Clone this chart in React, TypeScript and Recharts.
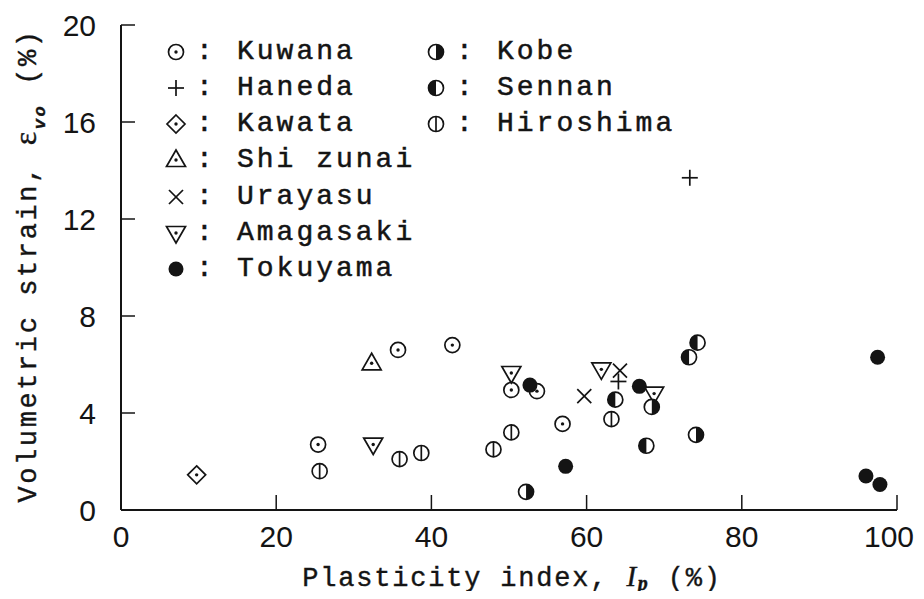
import React from 'react';
import { ScatterChart, Scatter, XAxis, YAxis, Legend } from 'recharts';

const INK = '#141414';
const MONO = "'Liberation Mono', 'DejaVu Sans Mono', monospace";
const NUM = "'Liberation Sans', 'DejaVu Sans', sans-serif";

const xTicks = [0, 20, 40, 60, 80, 100];
const yTicks = [0, 4, 8, 12, 16, 20];

const kuwana = [
  { ip: 25.4, ev: 2.7 }, { ip: 35.7, ev: 6.6 }, { ip: 42.7, ev: 6.8 },
  { ip: 50.3, ev: 4.95 }, { ip: 53.6, ev: 4.9 }, { ip: 56.9, ev: 3.55 },
];
const haneda = [{ ip: 73.3, ev: 13.7 }, { ip: 64.1, ev: 5.3 }];
const kawata = [{ ip: 9.75, ev: 1.45 }];
const shizunai = [{ ip: 32.3, ev: 6.05 }];
const urayasu = [{ ip: 59.7, ev: 4.7 }, { ip: 64.3, ev: 5.75 }];
const amagasaki = [
  { ip: 32.5, ev: 2.7 }, { ip: 50.3, ev: 5.65 }, { ip: 61.9, ev: 5.8 }, { ip: 68.7, ev: 4.8 },
];
const tokuyama = [
  { ip: 52.7, ev: 5.15 }, { ip: 57.3, ev: 1.8 }, { ip: 66.8, ev: 5.1 },
  { ip: 97.5, ev: 6.3 }, { ip: 96.0, ev: 1.4 }, { ip: 97.8, ev: 1.05 },
];
const kobe = [{ ip: 52.2, ev: 0.75 }, { ip: 68.4, ev: 4.25 }, { ip: 74.1, ev: 3.1 }];
const sennan = [
  { ip: 63.7, ev: 4.55 }, { ip: 67.7, ev: 2.65 }, { ip: 74.3, ev: 6.9 }, { ip: 73.2, ev: 6.3 },
];
const hiroshima = [
  { ip: 25.6, ev: 1.6 }, { ip: 35.9, ev: 2.1 }, { ip: 38.7, ev: 2.35 },
  { ip: 48.0, ev: 2.5 }, { ip: 50.3, ev: 3.2 }, { ip: 63.2, ev: 3.75 },
];

type Kind =
  | 'dotCircle' | 'plus' | 'diamond' | 'triUp' | 'cross' | 'triDown'
  | 'filled' | 'halfRight' | 'halfLeft' | 'barCircle';

const series: { name: string; kind: Kind; data: { ip: number; ev: number }[] }[] = [
  { name: 'Kuwana', kind: 'dotCircle', data: kuwana },
  { name: 'Haneda', kind: 'plus', data: haneda },
  { name: 'Kawata', kind: 'diamond', data: kawata },
  { name: 'Shi zunai', kind: 'triUp', data: shizunai },
  { name: 'Urayasu', kind: 'cross', data: urayasu },
  { name: 'Amagasaki', kind: 'triDown', data: amagasaki },
  { name: 'Tokuyama', kind: 'filled', data: tokuyama },
  { name: 'Kobe', kind: 'halfRight', data: kobe },
  { name: 'Sennan', kind: 'halfLeft', data: sennan },
  { name: 'Hiroshima', kind: 'barCircle', data: hiroshima },
];

const R = 7.5;
const SW = 1.7;

function Marker({ kind, cx, cy }: { kind: Kind; cx: number; cy: number }) {
  const common = { stroke: INK, strokeWidth: SW, fill: 'none' };
  const dot = <circle cx={cx} cy={cy} r={1.7} fill={INK} />;
  switch (kind) {
    case 'dotCircle':
      return (
        <g>
          <circle cx={cx} cy={cy} r={R} {...common} fill="#fff" />
          {dot}
        </g>
      );
    case 'plus':
      return (
        <g>
          <line x1={cx - 8} y1={cy} x2={cx + 8} y2={cy} {...common} />
          <line x1={cx} y1={cy - 8} x2={cx} y2={cy + 8} {...common} />
        </g>
      );
    case 'diamond':
      return (
        <g>
          <path d={`M${cx},${cy - 9}L${cx + 9},${cy}L${cx},${cy + 9}L${cx - 9},${cy}Z`} {...common} fill="#fff" />
          {dot}
        </g>
      );
    case 'triUp':
      return (
        <g>
          <path d={`M${cx},${cy - 10}L${cx + 9.5},${cy + 6.5}L${cx - 9.5},${cy + 6.5}Z`} {...common} fill="#fff" />
          {dot}
        </g>
      );
    case 'triDown':
      return (
        <g>
          <path d={`M${cx - 9.5},${cy - 6.5}L${cx + 9.5},${cy - 6.5}L${cx},${cy + 10}Z`} {...common} fill="#fff" />
          {dot}
        </g>
      );
    case 'cross':
      return (
        <g>
          <line x1={cx - 7} y1={cy - 7} x2={cx + 7} y2={cy + 7} {...common} />
          <line x1={cx - 7} y1={cy + 7} x2={cx + 7} y2={cy - 7} {...common} />
        </g>
      );
    case 'filled':
      return <circle cx={cx} cy={cy} r={R} fill={INK} />;
    case 'halfRight':
      return (
        <g>
          <circle cx={cx} cy={cy} r={R} {...common} fill="#fff" />
          <path d={`M${cx},${cy - R}A${R},${R} 0 0 1 ${cx},${cy + R}Z`} fill={INK} />
        </g>
      );
    case 'halfLeft':
      return (
        <g>
          <circle cx={cx} cy={cy} r={R} {...common} fill="#fff" />
          <path d={`M${cx},${cy - R}A${R},${R} 0 0 0 ${cx},${cy + R}Z`} fill={INK} />
        </g>
      );
    case 'barCircle':
      return (
        <g>
          <circle cx={cx} cy={cy} r={R} {...common} fill="#fff" />
          <line x1={cx} y1={cy - R} x2={cx} y2={cy + R} {...common} />
        </g>
      );
  }
  return null;
}

function LegendBox() {
  const colX = [168, 428];
  const row0 = 43.5;
  const rowH = 36.3;
  const txt: React.CSSProperties = {
    position: 'absolute',
    lineHeight: '36px',
    fontSize: 28,
    whiteSpace: 'pre',
    WebkitTextStroke: '0.5px #141414',
  };
  return (
    <div style={{ position: 'relative', width: 640, height: 300, fontFamily: MONO, color: INK }}>
      {series.map((s, i) => {
        const col = i < 7 ? 0 : 1;
        const row = i < 7 ? i : i - 7;
        const x = colX[col];
        const y = row0 + row * rowH;
        return (
          <React.Fragment key={s.name}>
            <svg
              width={26}
              height={26}
              style={{ position: 'absolute', left: x - 13, top: y - 13, overflow: 'visible' }}
            >
              <Marker kind={s.kind} cx={13} cy={13} />
            </svg>
            <span style={{ ...txt, left: x + 20, top: y - 18 }}>:</span>
            <span style={{ ...txt, left: x + 61, top: y - 18, letterSpacing: 3 }}>{s.name}</span>
          </React.Fragment>
        );
      })}
    </div>
  );
}

function XTick(props: any) {
  const { x, y, payload } = props;
  const last = payload.value === xTicks[xTicks.length - 1];
  return (
    <text
      x={x + (last ? -8 : 0)}
      y={y}
      dy="0.71em"
      textAnchor="middle"
      fontSize={30}
      fontFamily={NUM}
      fill={INK}
    >
      {payload.value}
    </text>
  );
}

function YLabel(props: any) {
  const vb = props.viewBox || { x: 0, y: 0, width: 0, height: 0 };
  const cx = vb.x + 28;
  const cy = vb.y + vb.height / 2 - 2;
  return (
    <text
      transform={`translate(${cx},${cy}) rotate(-90)`}
      textAnchor="middle"
      fontFamily={MONO}
      fontSize={27}
      letterSpacing={2.6}
      fill={INK}
      stroke={INK}
      strokeWidth={0.4}
    >
      <tspan>Volumetric strain, </tspan>
      <tspan fontFamily="'Liberation Serif', serif" fontSize={32}>ε</tspan>
      <tspan fontSize={17} fontStyle="italic" fontWeight="bold" dy={9}>vo</tspan>
      <tspan dy={-9}> (%)</tspan>
    </text>
  );
}

function XLabel(props: any) {
  const vb = props.viewBox || { x: 0, y: 0, width: 0, height: 0 };
  const cx = vb.x + vb.width / 2 + 3;
  const cy = vb.y + 76;
  return (
    <text
      x={cx}
      y={cy}
      textAnchor="middle"
      fontFamily={MONO}
      fontSize={27}
      letterSpacing={1.8}
      fill={INK}
      stroke={INK}
      strokeWidth={0.4}
    >
      <tspan>Plasticity index, </tspan>
      <tspan fontStyle="italic" fontFamily="'Liberation Serif', serif" fontSize={29}>I</tspan>
      <tspan fontStyle="italic" fontWeight="bold" fontFamily="'Liberation Serif', serif" fontSize={20} dy={4}>p</tspan>
      <tspan dy={-4}> (%)</tspan>
    </text>
  );
}

export default function App() {
  return (
    <div>
      <style>{`.recharts-surface{overflow:visible}`}</style>
      <ScatterChart width={916} height={583} margin={{ top: 17, right: 27, bottom: 0, left: 0 }}>
        <XAxis
          type="number"
          dataKey="ip"
          domain={[0, 100]}
          ticks={xTicks}
          height={81}
          tickSize={-15}
          tickMargin={31}
          axisLine={{ stroke: INK, strokeWidth: 2 }}
          tickLine={{ stroke: INK, strokeWidth: 1.5 }}
          tick={<XTick />}
          label={{ content: XLabel }}
        />
        <XAxis
          xAxisId="top"
          orientation="top"
          type="number"
          dataKey="ip"
          domain={[0, 100]}
          height={0}
          tick={false}
          tickLine={false}
          axisLine={{ stroke: INK, strokeWidth: 2 }}
        />
        <YAxis
          type="number"
          dataKey="ev"
          domain={[0, 20]}
          ticks={yTicks}
          width={113}
          tickSize={-14}
          tickMargin={39}
          axisLine={{ stroke: INK, strokeWidth: 2 }}
          tickLine={{ stroke: INK, strokeWidth: 1.5 }}
          tick={{ fill: INK, fontSize: 30, fontFamily: NUM }}
          label={{ content: YLabel }}
        />
        <YAxis
          yAxisId="right"
          orientation="right"
          type="number"
          dataKey="ev"
          domain={[0, 20]}
          width={0}
          tick={false}
          tickLine={false}
          axisLine={{ stroke: INK, strokeWidth: 2 }}
        />
        <Legend
          layout="horizontal"
          verticalAlign="middle"
          align="center"
          wrapperStyle={{ left: 0, top: 0, width: 640, height: 300 }}
          content={() => <LegendBox />}
        />
        {series.map((s) => (
          <Scatter
            key={s.name}
            name={s.name}
            data={s.data}
            isAnimationActive={false}
            shape={(p: any) => <Marker kind={s.kind} cx={p.cx} cy={p.cy} />}
          />
        ))}
      </ScatterChart>
    </div>
  );
}
